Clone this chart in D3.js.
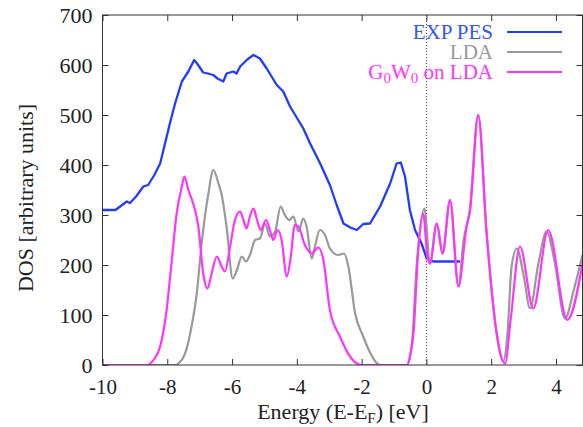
<!DOCTYPE html>
<html><head><meta charset="utf-8">
<script src="https://cdn.jsdelivr.net/npm/d3@7"></script>
<style>body{margin:0;background:#fff}svg{display:block}text{font-family:"Liberation Serif","Times New Roman",serif}</style>
</head><body>
<script>
const xTicks = [-10,-8,-6,-4,-2,0,2,4];
const yTicks = [0,100,200,300,400,500,600,700];
const expE = [-10.0,-9.6,-9.25,-9.15,-8.95,-8.74,-8.59,-8.4,-8.22,-8.07,-7.92,-7.76,-7.55,-7.35,-7.17,-7.08,-6.89,-6.75,-6.58,-6.45,-6.27,-6.17,-5.96,-5.86,-5.75,-5.55,-5.34,-5.14,-4.93,-4.62,-4.42,-4.21,-3.8,-3.59,-3.28,-2.98,-2.77,-2.56,-2.35,-2.15,-1.95,-1.74,-1.43,-1.12,-0.92,-0.79,-0.66,-0.51,-0.35,-0.15,0.01,0.21,1.04];
const expDOS = [310,310,327,324,338,357,360,380,403,443,483,523,567,587,610,603,585,583,580,573,567,583,587,583,597,610,620,613,593,560,547,517,473,443,403,360,320,283,275,270,282,283,317,363,403,405,377,310,270,243,213,207,207];
const ldaE = [-10,-7.75,-7.66,-7.45,-7.25,-7.09,-6.94,-6.73,-6.58,-6.42,-6.32,-6.17,-5.98,-5.85,-5.7,-5.57,-5.45,-5.29,-5.14,-4.98,-4.83,-4.67,-4.5,-4.37,-4.23,-4.11,-3.95,-3.8,-3.7,-3.54,-3.44,-3.29,-3.13,-2.98,-2.72,-2.54,-2.41,-2.2,-1.95,-1.74,-1.55,-1.4,-0.6,-0.45,-0.3,-0.06,0.11,0.32,0.5,0.73,0.99,1.15,1.24,1.32,1.6,1.86,2.17,2.37,2.5,2.63,2.79,3.0,3.2,3.45,3.71,3.95,4.28,4.55,4.82];
const ldaDOS = [0,0,3,23,77,143,243,343,390,363,340,277,173,190,217,207,220,250,253,283,257,267,317,300,290,297,267,293,277,213,237,270,260,233,220,223,197,103,57,25,5,0,0,40,200,313,203,283,223,330,157,250,277,300,500,263,63,7,60,197,233,180,113,200,267,210,93,150,220];
const gwE = [-10,-8.6,-8.53,-8.4,-8.22,-8.02,-7.86,-7.71,-7.55,-7.47,-7.35,-7.2,-7.04,-6.89,-6.76,-6.63,-6.47,-6.32,-6.22,-6.06,-5.91,-5.75,-5.65,-5.55,-5.45,-5.34,-5.24,-5.12,-4.95,-4.83,-4.73,-4.59,-4.47,-4.31,-4.2,-4.06,-3.95,-3.75,-3.54,-3.34,-3.18,-2.98,-2.67,-2.36,-2.15,-2.0,-0.6,-0.5,-0.4,-0.25,-0.1,0.03,0.11,0.32,0.5,0.73,0.99,1.24,1.35,1.6,1.86,2.17,2.43,2.6,2.89,3.3,3.76,4.35,4.84];
const gwDOS = [0,0,3,12,37,110,210,303,357,377,350,323,277,183,153,183,217,197,187,237,290,307,290,273,297,313,293,270,290,270,250,270,250,177,210,280,277,240,223,235,210,110,57,17,3,0,0,20,63,230,303,217,203,283,223,330,157,277,310,500,263,63,3,90,237,113,270,90,210];

const W = 583, H = 427;
const L = 102.5, R = 582.5, T = 15, B = 365;
const svg = d3.select("body").append("svg").attr("width", W).attr("height", H);
const x = d3.scaleLinear().domain([-10, -10 + (R - L) / 32.39]).range([L, R]);
const y = d3.scaleLinear().domain([0, 700]).range([B, T]);
const frame = "#333";
const txt = "#222";

svg.append("clipPath").attr("id","clip").append("rect").attr("x",L).attr("y",T).attr("width",R-L).attr("height",B-T);

// dotted line at E = 0
svg.append("line").attr("x1", x(0)).attr("x2", x(0)).attr("y1", T).attr("y2", B)
  .attr("stroke", "#444").attr("stroke-width", 1).attr("stroke-dasharray", "1,2");

const line = (xs, ys, curve) => d3.line().x((d,i)=>x(xs[i])).y((d,i)=>y(ys[i])).curve(curve)(xs);
const plot = svg.append("g").attr("clip-path","url(#clip)");
plot.append("path").attr("d", line(expE, expDOS, d3.curveLinear)).attr("fill","none").attr("stroke","#1f3cff").attr("stroke-width",2.3).attr("stroke-linejoin","round");
plot.append("path").attr("d", line(ldaE, ldaDOS, d3.curveMonotoneX)).attr("fill","none").attr("stroke","#999999").attr("stroke-width",2.2);
plot.append("path").attr("d", line(gwE, gwDOS, d3.curveMonotoneX)).attr("fill","none").attr("stroke","#ff33ff").attr("stroke-width",2.2);

// frame
svg.append("rect").attr("x",L).attr("y",T).attr("width",R-L).attr("height",B-T).attr("fill","none").attr("stroke",frame).attr("stroke-width",1);

// axes with inward ticks
const xb = svg.append("g").attr("transform",`translate(0,${B})`).call(d3.axisBottom(x).tickValues(xTicks).tickSizeInner(-6).tickSizeOuter(0).tickPadding(14).tickFormat(d=>d<0?"-"+Math.abs(d):d));
const xt = svg.append("g").attr("transform",`translate(0,${T})`).call(d3.axisTop(x).tickValues(xTicks).tickSizeInner(-6).tickSizeOuter(0).tickFormat(""));
const yl = svg.append("g").attr("transform",`translate(${L},0)`).call(d3.axisLeft(y).tickValues(yTicks).tickSizeInner(-6).tickSizeOuter(0).tickPadding(10));
const yr = svg.append("g").attr("transform",`translate(${R},0)`).call(d3.axisRight(y).tickValues(yTicks).tickSizeInner(-6).tickSizeOuter(0).tickFormat(""));
[xb,xt,yl,yr].forEach(a=>{a.select(".domain").remove();a.selectAll("line").attr("stroke",frame);a.selectAll("text").attr("font-family","Liberation Serif").attr("fill",txt);});
xb.selectAll("text").attr("font-size",21).attr("dy","0.71em");
yl.selectAll("text").attr("font-size",22);

// axis labels
svg.append("text").attr("transform",`translate(33,198) rotate(-90)`).attr("text-anchor","middle").attr("font-size",22).attr("fill",txt).text("DOS [arbitrary units]");
const xl = svg.append("text").attr("x",343).attr("y",419).attr("text-anchor","middle").attr("font-size",22).attr("fill",txt);
xl.append("tspan").text("Energy (E-E");
xl.append("tspan").attr("font-size",15).attr("dy",4).text("F");
xl.append("tspan").attr("dy",-4).text(") [eV]");

// legend
const leg = [{c:"#1f3cff",y:32},{c:"#999999",y:52},{c:"#ff33ff",y:72}];
leg.forEach(d=>svg.append("line").attr("x1",507).attr("x2",562).attr("y1",d.y).attr("y2",d.y).attr("stroke",d.c).attr("stroke-width",2.2));
svg.append("text").attr("x",493).attr("y",38.5).attr("text-anchor","end").attr("font-size",21).attr("fill","#3355ff").text("EXP PES");
svg.append("text").attr("x",493).attr("y",58.5).attr("text-anchor","end").attr("font-size",21).attr("fill","#999999").text("LDA");
const gt = svg.append("text").attr("x",493).attr("y",78.5).attr("text-anchor","end").attr("font-size",21).attr("fill","#ff33ff");
gt.append("tspan").text("G");
gt.append("tspan").attr("font-size",15).attr("dy",4).text("0");
gt.append("tspan").attr("dy",-4).text("W");
gt.append("tspan").attr("font-size",15).attr("dy",4).text("0");
gt.append("tspan").attr("dy",-4).text(" on LDA");
</script>
</body></html>
